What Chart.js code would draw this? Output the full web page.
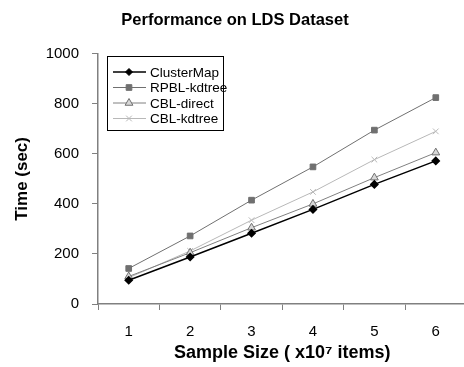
<!DOCTYPE html>
<html><head><meta charset="utf-8">
<script src="https://cdn.jsdelivr.net/npm/chart.js@4/dist/chart.umd.min.js"></script>
<style>html,body{margin:0;padding:0;overflow:hidden;background:#fff}#wrap{width:472px;height:367px}</style>
</head><body><div id="wrap"><canvas id="c" width="472" height="367"></canvas></div>
<script>
const categories = ["1","2","3","4","5","6"];
const clusterMap = [95, 188, 283, 378, 478, 572];
const rpblKdtree = [142, 272, 415, 548, 695, 825];
const cblDirect = [110, 205, 305, 400, 505, 605];
const cblKdtree = [105, 212, 335, 448, 577, 690];
const yTicks = [0, 200, 400, 600, 800, 1000];

const FONT = '"Liberation Sans", Arial, sans-serif';

const legendPlugin = {
  id: 'boxLegend',
  afterDraw(chart) {
    const ctx = chart.ctx;
    const x0 = 107, y0 = 56, w = 116, h = 74;
    ctx.save();
    ctx.fillStyle = '#fff';
    ctx.fillRect(x0, y0, w, h);
    ctx.strokeStyle = '#000';
    ctx.lineWidth = 1;
    ctx.strokeRect(x0 + 0.5, y0 + 0.5, w, h);
    chart.data.datasets.forEach((ds, i) => {
      const y = 72 + i * 15.5;
      ctx.strokeStyle = ds.borderColor;
      ctx.lineWidth = ds.borderWidth;
      ctx.beginPath(); ctx.moveTo(113, y); ctx.lineTo(146, y); ctx.stroke();
      ctx.fillStyle = ds.pointBackgroundColor;
      ctx.strokeStyle = ds.pointBorderColor;
      ctx.lineWidth = 1;
      Chart.helpers.drawPoint(ctx, {pointStyle: ds.pointStyle, radius: ds.pointRadius, borderWidth: 1}, 129, y);
      ctx.fillStyle = '#000';
      ctx.font = '13.5px ' + FONT;
      ctx.textBaseline = 'middle';
      ctx.fillText(ds.label, 150, y + 1);
    });
    ctx.restore();
  }
};

new Chart(document.getElementById('c'), {
  type: 'line',
  data: {
    labels: categories,
    datasets: [
      {label: 'ClusterMap', data: clusterMap, borderColor: '#000', borderWidth: 1.5, pointStyle: 'rectRot', pointRadius: 3.5, pointBackgroundColor: '#000', pointBorderColor: '#000'},
      {label: 'RPBL-kdtree', data: rpblKdtree, borderColor: '#707070', borderWidth: 1, pointStyle: 'rect', pointRadius: 4, pointBackgroundColor: '#707070', pointBorderColor: '#707070'},
      {label: 'CBL-direct', data: cblDirect, borderColor: '#808080', borderWidth: 1, pointStyle: 'triangle', pointRadius: 4.5, pointBackgroundColor: '#d8d8d8', pointBorderColor: '#707070'},
      {label: 'CBL-kdtree', data: cblKdtree, borderColor: '#b8b8b8', borderWidth: 1, pointStyle: 'crossRot', pointRadius: 4, pointBackgroundColor: '#b8b8b8', pointBorderColor: '#b8b8b8'}
    ]
  },
  options: {
    responsive: false,
    animation: false,
    layout: {padding: {left: 0, right: 2, top: 0, bottom: 0}},
    plugins: {
      legend: {display: false},
      tooltip: {enabled: false},
      title: {display: true, text: 'Performance on LDS Dataset', color: '#000',
        font: {family: FONT, size: 16.5, weight: 'bold'},
        padding: {top: 11, bottom: 23}}
    },
    elements: {line: {tension: 0}},
    scales: {
      x: {
        offset: true,
        afterFit(scale) { scale.height = 63; },
        grid: {display: true, drawOnChartArea: false, offset: true, tickLength: 6, color: '#808080'},
        border: {color: '#808080', width: 1.5},
        ticks: {color: '#000', font: {family: FONT, size: 15}, padding: 13},
        title: {display: true, text: 'Sample Size ( x10\u2077 items)', color: '#000',
          font: {family: FONT, size: 18, weight: 'bold'}, padding: {top: 0, bottom: 3}}
      },
      y: {
        min: 0, max: 1000,
        afterBuildTicks(scale) { scale.ticks = yTicks.map(v => ({value: v})); },
        afterFit(scale) { scale.width = 98; },
        grid: {display: true, drawOnChartArea: false, tickLength: 6, color: '#808080'},
        border: {color: '#808080', width: 1.5},
        ticks: {color: '#000', font: {family: FONT, size: 15}, padding: 13,
          callback: (v) => String(v)},
        title: {display: true, text: 'Time (sec)', color: '#000',
          font: {family: FONT, size: 17, weight: 'bold'}, padding: {top: 12, bottom: 0}}
      }
    }
  },
  plugins: [legendPlugin]
});
</script>
</body></html>
